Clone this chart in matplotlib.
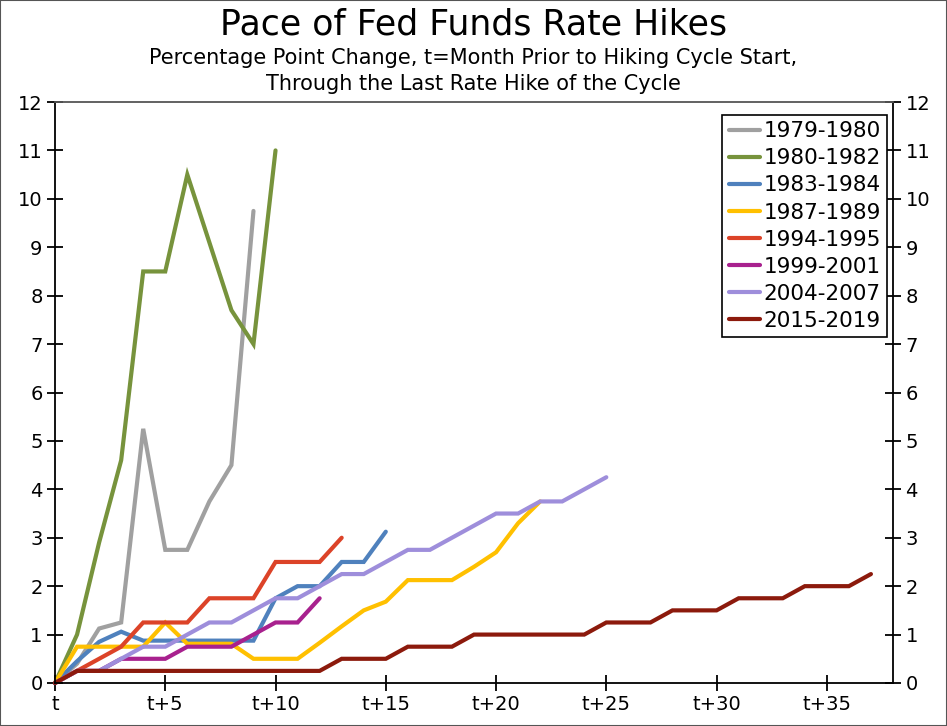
import matplotlib
matplotlib.use("Agg")
import matplotlib.pyplot as plt
from matplotlib.patches import Rectangle

plt.rcParams['font.family'] = ['DejaVu Sans']

labels = ["1979-1980", "1980-1982", "1983-1984", "1987-1989",
          "1994-1995", "1999-2001", "2004-2007", "2015-2019"]
colors = ["#A0A0A0", "#77933C", "#4F81BD", "#FFC000",
          "#DC4328", "#A8218E", "#9E8EDB", "#8C1A0C"]

s1979 = [0, 0.4, 1.125, 1.25, 5.25, 2.75, 2.75, 3.75, 4.5, 9.75]
s1980 = [0, 1.0, 2.9, 4.6, 8.5, 8.5, 10.5, 9.1, 7.7, 7.0, 11.0]
s1983 = [0, 0.45, 0.85, 1.06, 0.875, 0.875, 0.875, 0.875, 0.875, 0.875,
         1.75, 2.0, 2.0, 2.5, 2.5, 3.125]
s1987 = [0, 0.75, 0.75, 0.75, 0.75, 1.25, 0.81, 0.81, 0.81, 0.5, 0.5, 0.5,
         0.83, 1.17, 1.5, 1.68, 2.125, 2.125, 2.125, 2.4, 2.7, 3.3, 3.75]
s1994 = [0, 0.25, 0.5, 0.75, 1.25, 1.25, 1.25, 1.75, 1.75, 1.75,
         2.5, 2.5, 2.5, 3.0]
s1999 = [0, 0.25, 0.25, 0.5, 0.5, 0.5, 0.75, 0.75, 0.75, 1.0, 1.25, 1.25, 1.75]
s2004 = [0, 0.25, 0.25, 0.5, 0.75, 0.75, 1.0, 1.25, 1.25, 1.5, 1.75, 1.75,
         2.0, 2.25, 2.25, 2.5, 2.75, 2.75, 3.0, 3.25, 3.5, 3.5, 3.75, 3.75,
         4.0, 4.25]
s2015 = [0] + [0.25] * 12 + [0.5] * 3 + [0.75] * 3 + [1.0] * 6 + [1.25] * 3 + \
        [1.5] * 3 + [1.75] * 3 + [2.0] * 3 + [2.25]
series = [s1979, s1980, s1983, s1987, s1994, s1999, s2004, s2015]

xticks = [0, 5, 10, 15, 20, 25, 30, 35]
xticklabels = ["t", "t+5", "t+10", "t+15", "t+20", "t+25", "t+30", "t+35"]
yticks = list(range(0, 13))

fig = plt.figure(figsize=(9.47, 7.26), dpi=100)
ax = fig.add_axes([55/947, 43/726, 838/947, 581/726])

for lab, col, s in zip(labels, colors, series):
    ax.plot(range(len(s)), s, color=col, lw=3.0, label=lab,
            solid_joinstyle='miter', solid_capstyle='round', clip_on=False)

ax.set_xlim(0, 38)
ax.set_ylim(0, 12)
ax.set_xticks(xticks)
ax.set_xticklabels(xticklabels, fontsize=14)
ax.set_yticks(yticks)
ax.set_yticklabels([str(v) for v in yticks], fontsize=14)
ax.tick_params(axis='y', which='both', direction='inout', length=12, width=1.3,
               left=True, right=True, labelleft=True, labelright=True, pad=3)
ax.tick_params(axis='x', direction='inout', length=12, width=1.3, pad=3)
for sp in ax.spines.values():
    sp.set_linewidth(1.3)
    sp.set_color('black')
ax.spines['top'].set_color('#555555')

leg = ax.legend(loc='upper right', bbox_to_anchor=(0.993, 0.978), borderaxespad=0,
                fontsize=15.5, handlelength=1.45, handletextpad=0.15,
                labelspacing=0.33, borderpad=0.3, fancybox=False,
                edgecolor='black', framealpha=1)
leg.get_frame().set_linewidth(1.2)

fig.text(0.5, 0.966, "Pace of Fed Funds Rate Hikes", ha='center', va='center',
         fontsize=25)
fig.text(0.5, 0.902, "Percentage Point Change, t=Month Prior to Hiking Cycle Start,\nThrough the Last Rate Hike of the Cycle",
         ha='center', va='center', fontsize=15, linespacing=1.4)

fig.patches.append(Rectangle((0, 0), 1, 1, transform=fig.transFigure,
                             fill=False, edgecolor='#555555', lw=1.5))

fig.savefig("out.png", dpi=100)
